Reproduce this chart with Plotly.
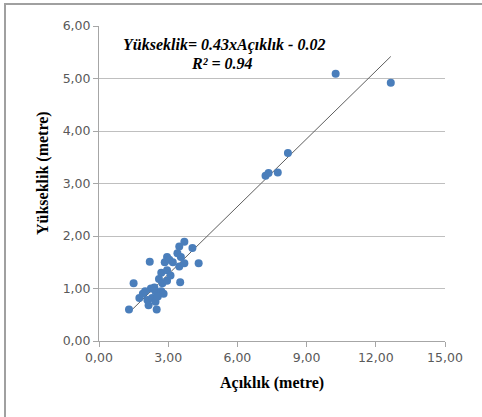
import plotly.graph_objects as go

# Data
acikllik = [1.30, 1.50, 1.75, 1.90, 2.10, 2.15, 2.20, 2.25, 2.30, 2.45,
            2.45, 2.50, 2.40, 2.60, 2.70, 2.70, 2.75, 2.85, 2.95, 2.95,
            2.95, 3.10, 3.05, 3.40, 3.48, 3.48, 3.52, 3.55, 3.70, 3.70,
            4.05, 4.32, 2.80, 2.00, 2.55, 3.20, 7.22, 7.35, 7.75, 8.19,
            10.26, 12.65]
yukseklik = [0.60, 1.10, 0.82, 0.90, 0.78, 0.68, 1.51, 1.00, 0.82, 0.95,
             0.75, 0.60, 1.02, 1.18, 0.95, 1.30, 1.10, 1.50, 1.60, 1.35,
             1.15, 1.25, 1.55, 1.67, 1.80, 1.42, 1.12, 1.60, 1.48, 1.89,
             1.77, 1.48, 0.90, 0.95, 0.85, 1.50, 3.15, 3.20, 3.21, 3.58,
             5.09, 4.92]
slope = 0.43
intercept = -0.02
x_ticks = [0, 3, 6, 9, 12, 15]
x_tick_labels = ["0,00", "3,00", "6,00", "9,00", "12,00", "15,00"]
y_ticks = [0, 1, 2, 3, 4, 5, 6]
y_tick_labels = ["0,00", "1,00", "2,00", "3,00", "4,00", "5,00", "6,00"]

W, H = 482, 417
L, R, T, B = 99, 445, 26, 341

def px(x):
    return (x - L) / (R - L)

def py(y):
    return (B - y) / (B - T)

xmin, xmax = min(acikllik), max(acikllik)
trend_x = [xmin, xmax]
trend_y = [slope * v + intercept for v in trend_x]

fig = go.Figure()
fig.add_trace(go.Scatter(x=trend_x, y=trend_y, mode="lines",
                         line=dict(color="#5e5e5e", width=1), hoverinfo="skip"))
fig.add_trace(go.Scatter(x=acikllik, y=yukseklik, mode="markers",
                         marker=dict(color="#4A7EBB", size=8, line=dict(width=0))))

tick_font = dict(family="DejaVu Sans", size=12.5, color="#595959")
fig.update_xaxes(range=[0, 15], tickvals=x_ticks, ticktext=x_tick_labels,
                 showgrid=False, zeroline=False, showline=True, linecolor="#a6a6a6",
                 linewidth=1, ticks="outside", ticklen=5, tickcolor="#a6a6a6",
                 tickfont=tick_font)
fig.update_yaxes(range=[0, 6], tickvals=y_ticks, ticktext=y_tick_labels,
                 showgrid=True, gridcolor="#bfbfbf", gridwidth=1, zeroline=False,
                 showline=True, linecolor="#a6a6a6", linewidth=1, ticks="outside",
                 ticklen=5, tickcolor="#a6a6a6", tickfont=tick_font)

title_font = dict(family="Liberation Serif", size=16, color="#000000")
eq_font = dict(family="Liberation Serif", size=16, color="#000000")
annotations = [
    dict(text="<b>Açıklık (metre)</b>", x=px(272), y=py(383), xref="paper", yref="paper",
         showarrow=False, font=title_font, xanchor="center", yanchor="middle"),
    dict(text="<b>Yükseklik (metre)</b>", x=px(43), y=py(173), xref="paper", yref="paper",
         showarrow=False, font=title_font, textangle=-90, xanchor="center", yanchor="middle"),
    dict(text="<b><i>Yükseklik= 0.43xAçıklık - 0.02</i></b>", x=px(224), y=py(45),
         xref="paper", yref="paper", showarrow=False, font=eq_font,
         xanchor="center", yanchor="middle"),
    dict(text="<b><i>R² = 0.94</i></b>", x=px(222), y=py(63),
         xref="paper", yref="paper", showarrow=False, font=eq_font,
         xanchor="center", yanchor="middle"),
]

shapes = [
    dict(type="line", xref="paper", yref="paper", x0=px(4), x1=px(490), y0=py(4), y1=py(4),
         line=dict(color="#a0a0a0", width=2)),
    dict(type="line", xref="paper", yref="paper", x0=px(5), x1=px(5), y0=py(3), y1=py(425),
         line=dict(color="#a0a0a0", width=2)),
]

fig.update_layout(width=W, height=H, margin=dict(l=L, r=W - R, t=T, b=H - B),
                  paper_bgcolor="white", plot_bgcolor="white", showlegend=False,
                  annotations=annotations, shapes=shapes)

fig.write_html("out.html", config={"displayModeBar": False},
               post_script="document.body.style.margin='0';document.body.style.overflow='hidden';")
